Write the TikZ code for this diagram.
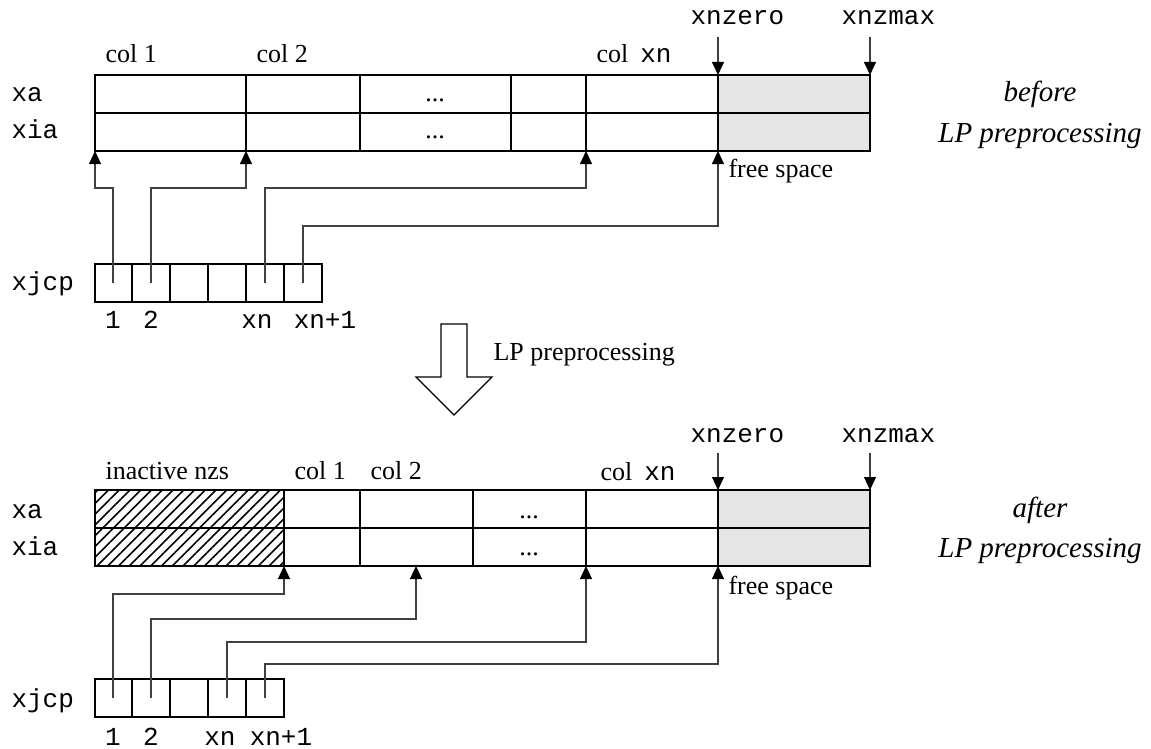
\documentclass[tikz,border=0pt]{standalone}
\usepackage{fontspec}
\setmainfont{Liberation Serif}
\setmonofont{Liberation Mono}
\usepackage{tikz}
\usetikzlibrary{arrows.meta,patterns.meta}

\begin{document}
\begin{tikzpicture}[x=0.5pt, y=-0.5pt, line width=0.55pt,
		txt/.style={font=\fontsize{13}{15}\selectfont, inner sep=0pt},
		mono/.style={font=\fontsize{13}{15}\selectfont\ttfamily, inner sep=0pt},
		note/.style={font=\fontsize{14.5}{17}\selectfont\itshape, inner sep=0pt},
		ptr/.style={draw=black!75, -{Triangle[length=6.5pt,width=6pt,color=black]}},
		freecell/.style={fill=black!10},
		deadcell/.style={pattern={Lines[angle=45,distance=3.8pt,line width=0.8pt]}, pattern color=black}]
		\useasboundingbox (0,0) rectangle (1151,749);
		
		% 上方数组 (before)
		\draw[freecell] (718,75) rectangle (870,151);
		\draw (95,75) rectangle (870,151);
		\draw (95,113) -- (870,113);
		\draw (246,75) -- (246,151);
		\draw (360,75) -- (360,151);
		\draw (511,75) -- (511,151);
		\draw (586,75) -- (586,151);
		\draw (718,75) -- (718,151);
		
		\node[mono, anchor=base west] (xaA) at (11,102) {xa};
		\node[mono, anchor=base west] (xiaA) at (11,139) {xia};
		\node[txt, anchor=base] (dotsA1) at (435,102) {...};
		\node[txt, anchor=base] (dotsA2) at (435,139) {...};
		\node[txt, anchor=base west] (colA1) at (105,63) {col 1};
		\node[txt, anchor=base west] (colA2) at (256,63) {col 2};
		\node[txt, anchor=base west] (colAn) at (596,63) {col\hspace{6pt}\texttt{xn}};
		\node[mono, anchor=base west] (zeroA) at (690,25) {xnzero};
		\node[mono, anchor=base west] (maxA) at (841,25) {xnzmax};
		\node[txt, anchor=base west] (freeA) at (728,177) {free space};
		\node[note, anchor=base] (befA) at (1040,102) {before};
		\node[note, anchor=base] (lpA) at (1040,142) {LP preprocessing};
		
		% 指向 xnzero / xnzmax
		\coordinate (zeroAt) at (718,37);
		\coordinate (zeroAb) at (718,75);
		\coordinate (maxAt) at (870,37);
		\coordinate (maxAb) at (870,75);
		\draw[ptr] (zeroAt) -- (zeroAb);
		\draw[ptr] (maxAt) -- (maxAb);
		
		% 上方 xjcp
		\draw (95,264) rectangle (322,302);
		\draw (132,264) -- (132,302);
		\draw (170,264) -- (170,302);
		\draw (208,264) -- (208,302);
		\draw (246,264) -- (246,302);
		\draw (284,264) -- (284,302);
		\node[mono, anchor=base west] (jcpA) at (11,290) {xjcp};
		\node[mono, anchor=base] (idxA1) at (113,328) {1};
		\node[mono, anchor=base] (idxA2) at (151,328) {2};
		\node[mono, anchor=base] (idxAn) at (257,328) {xn};
		\node[mono, anchor=base] (idxAm) at (325,328) {xn+1};
		
		% 上方指针
		\coordinate (pA1) at (113,283);
		\coordinate (pA2) at (151,283);
		\coordinate (pAn) at (265,283);
		\coordinate (pAm) at (303,283);
		\coordinate (tA1) at (95,151);
		\coordinate (tA2) at (246,151);
		\coordinate (tAn) at (586,151);
		\coordinate (tAm) at (718,151);
		\coordinate (lvA1) at (0,188);
		\coordinate (lvA2) at (0,226);
		\draw[ptr] (pA1) -- (pA1 |- lvA1) -| (tA1);
		\draw[ptr] (pA2) -- (pA2 |- lvA1) -| (tA2);
		\draw[ptr] (pAn) -- (pAn |- lvA1) -| (tAn);
		\draw[ptr] (pAm) -- (pAm |- lvA2) -| (tAm);
		
		% 中间的空心箭头
		\draw (441,324) -- (467,324) -- (467,377) -- (492,377) -- (454,415)
			-- (416,377) -- (441,377) -- cycle;
		\node[txt, anchor=base west] (step) at (493,360) {LP preprocessing};
		
		% 下方数组 (after)
		\fill[deadcell] (95,490) rectangle (284,566);
		\draw[freecell] (718,490) rectangle (870,566);
		\draw (95,490) rectangle (870,566);
		\draw (95,528) -- (870,528);
		\draw (284,490) -- (284,566);
		\draw (360,490) -- (360,566);
		\draw (473,490) -- (473,566);
		\draw (586,490) -- (586,566);
		\draw (718,490) -- (718,566);
		
		\node[mono, anchor=base west] (xaB) at (11,518) {xa};
		\node[mono, anchor=base west] (xiaB) at (11,555) {xia};
		\node[txt, anchor=base] (dotsB1) at (529,518) {...};
		\node[txt, anchor=base] (dotsB2) at (529,555) {...};
		\node[txt, anchor=base west] (nzsB) at (105,479) {inactive nzs};
		\node[txt, anchor=base west] (colB1) at (294,479) {col 1};
		\node[txt, anchor=base west] (colB2) at (370,479) {col 2};
		\node[txt, anchor=base west] (colBn) at (600,480) {col\hspace{6pt}\texttt{xn}};
		\node[mono, anchor=base west] (zeroB) at (690,442) {xnzero};
		\node[mono, anchor=base west] (maxB) at (841,442) {xnzmax};
		\node[txt, anchor=base west] (freeB) at (728,594) {free space};
		\node[note, anchor=base] (aftB) at (1040,517) {after};
		\node[note, anchor=base] (lpB) at (1040,557) {LP preprocessing};
		
		\coordinate (zeroBt) at (718,453);
		\coordinate (zeroBb) at (718,490);
		\coordinate (maxBt) at (870,453);
		\coordinate (maxBb) at (870,490);
		\draw[ptr] (zeroBt) -- (zeroBb);
		\draw[ptr] (maxBt) -- (maxBb);
		
		% 下方 xjcp
		\draw (95,679) rectangle (284,717);
		\draw (132,679) -- (132,717);
		\draw (170,679) -- (170,717);
		\draw (208,679) -- (208,717);
		\draw (246,679) -- (246,717);
		\node[mono, anchor=base west] (jcpB) at (11,707) {xjcp};
		\node[mono, anchor=base] (idxB1) at (113,745) {1};
		\node[mono, anchor=base] (idxB2) at (151,745) {2};
		\node[mono, anchor=base] (idxBn) at (220,745) {xn};
		\node[mono, anchor=base] (idxBm) at (281,745) {xn+1};
		
		% 下方指针
		\coordinate (pB1) at (113,698);
		\coordinate (pB2) at (151,698);
		\coordinate (pBn) at (227,698);
		\coordinate (pBm) at (265,698);
		\coordinate (tB1) at (284,566);
		\coordinate (tB2) at (416,566);
		\coordinate (tBn) at (586,566);
		\coordinate (tBm) at (718,566);
		\coordinate (lvB1) at (0,594);
		\coordinate (lvB2) at (0,619);
		\coordinate (lvB3) at (0,642);
		\coordinate (lvB4) at (0,664);
		\draw[ptr] (pB1) -- (pB1 |- lvB1) -| (tB1);
		\draw[ptr] (pB2) -- (pB2 |- lvB2) -| (tB2);
		\draw[ptr] (pBn) -- (pBn |- lvB3) -| (tBn);
		\draw[ptr] (pBm) -- (pBm |- lvB4) -| (tBm);
	\end{tikzpicture}
\end{document}
